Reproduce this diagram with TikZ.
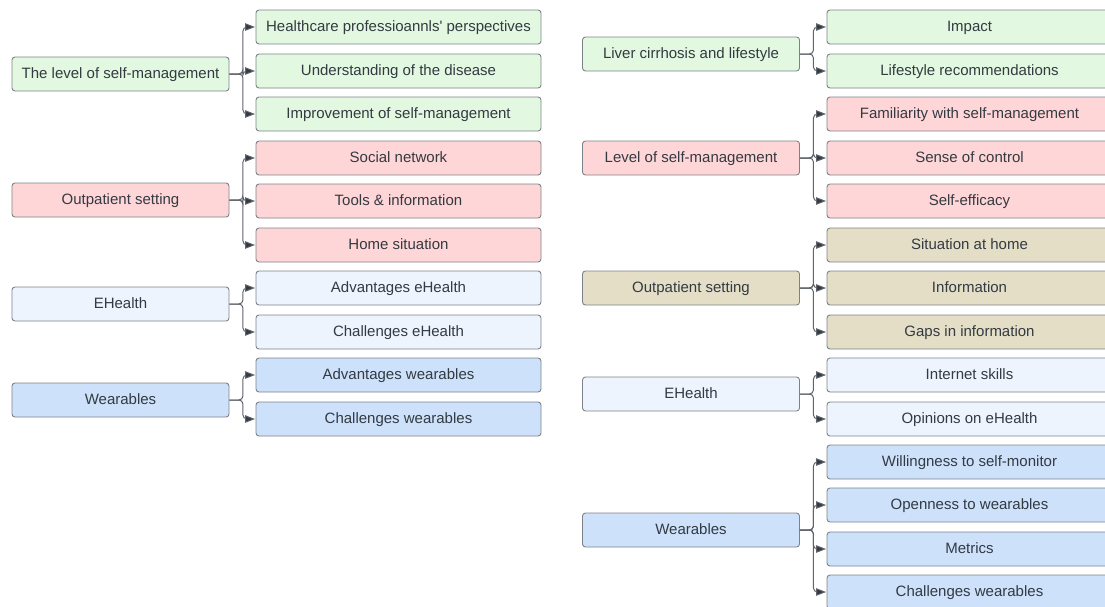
\documentclass[tikz,border=0pt]{standalone}
\usepackage{fontspec}
\setmainfont{Liberation Sans}
\usetikzlibrary{arrows.meta}
\definecolor{cgreen}{HTML}{E2F8E0}
\definecolor{cpink}{HTML}{FFD6D7}
\definecolor{clblue}{HTML}{EDF4FE}
\definecolor{cblue}{HTML}{CDE1FB}
\definecolor{ctan}{HTML}{E4DEC7}
\definecolor{cborder}{HTML}{7D8287}
\definecolor{ctext}{HTML}{333A42}
\definecolor{cline}{HTML}{5F646A}
\tikzset{
  box/.style={draw=cborder, line width=0.9pt, rounded corners=3pt, text=ctext,
    font=\fontsize{15}{18}\selectfont, minimum height=34pt, inner sep=0pt,
    text height=11pt, text depth=3pt},
  parentbox/.style={box, minimum width=217pt},
  childbox/.style={box, minimum width=285pt},
  conn/.style={draw=cline, line width=1pt, rounded corners=4pt, shorten >=0.5pt,
    -{Triangle[length=10pt,width=7.5pt,fill=ctext]}},
}
\begin{document}
\begin{tikzpicture}[x=1pt,y=-1pt]
\useasboundingbox (0,0) rectangle (1105,606);
% left parents
\node[parentbox, fill=cgreen] (L1) at (120.5,74) {The level of self-management};
\node[parentbox, fill=cpink] (L2) at (120.5,200) {Outpatient setting};
\node[parentbox, fill=clblue] (L3) at (120.5,304) {EHealth};
\node[parentbox, fill=cblue] (L4) at (120.5,400) {Wearables};
% left children
\node[childbox, fill=cgreen] (L1a) at (398.5,27) {Healthcare professioannls\textquotesingle{} perspectives};
\node[childbox, fill=cgreen] (L1b) at (398.5,71) {Understanding of the disease};
\node[childbox, fill=cgreen] (L1c) at (398.5,114) {Improvement of self-management};
\node[childbox, fill=cpink] (L2a) at (398.5,158) {Social network};
\node[childbox, fill=cpink] (L2b) at (398.5,201) {Tools \& information};
\node[childbox, fill=cpink] (L2c) at (398.5,245) {Home situation};
\node[childbox, fill=clblue] (L3a) at (398.5,288) {Advantages eHealth};
\node[childbox, fill=clblue] (L3b) at (398.5,332) {Challenges eHealth};
\node[childbox, fill=cblue] (L4a) at (398.5,375) {Advantages wearables};
\node[childbox, fill=cblue] (L4b) at (398.5,419) {Challenges wearables};
% right parents
\node[parentbox, fill=cgreen] (R1) at (691,54) {Liver cirrhosis and lifestyle};
\node[parentbox, fill=cpink] (R2) at (691,158) {Level of self-management};
\node[parentbox, fill=ctan] (R3) at (691,288) {Outpatient setting};
\node[parentbox, fill=clblue] (R4) at (691,394) {EHealth};
\node[parentbox, fill=cblue] (R5) at (691,530) {Wearables};
% right children
\node[childbox, fill=cgreen] (R1a) at (969.5,27) {Impact};
\node[childbox, fill=cgreen] (R1b) at (969.5,71) {Lifestyle recommendations};
\node[childbox, fill=cpink] (R2a) at (969.5,114) {Familiarity with self-management};
\node[childbox, fill=cpink] (R2b) at (969.5,158) {Sense of control};
\node[childbox, fill=cpink] (R2c) at (969.5,201) {Self-efficacy};
\node[childbox, fill=ctan] (R3a) at (969.5,245) {Situation at home};
\node[childbox, fill=ctan] (R3b) at (969.5,288) {Information};
\node[childbox, fill=ctan] (R3c) at (969.5,332) {Gaps in information};
\node[childbox, fill=clblue] (R4a) at (969.5,375) {Internet skills};
\node[childbox, fill=clblue] (R4b) at (969.5,419) {Opinions on eHealth};
\node[childbox, fill=cblue] (R5a) at (969.5,462) {Willingness to self-monitor};
\node[childbox, fill=cblue] (R5b) at (969.5,505) {Openness to wearables};
\node[childbox, fill=cblue] (R5c) at (969.5,549) {Metrics};
\node[childbox, fill=cblue] (R5d) at (969.5,592) {Challenges wearables};
% connectors
\foreach \p/\c in {L1/L1a,L1/L1b,L1/L1c,L2/L2a,L2/L2b,L2/L2c,L3/L3a,L3/L3b,L4/L4a,L4/L4b,
  R1/R1a,R1/R1b,R2/R2a,R2/R2b,R2/R2c,R3/R3a,R3/R3b,R3/R3c,R4/R4a,R4/R4b,R5/R5a,R5/R5b,R5/R5c,R5/R5d}
  \draw[conn] (\p.east) -- ++(13.5,0) |- (\c.west);
\end{tikzpicture}
\end{document}
